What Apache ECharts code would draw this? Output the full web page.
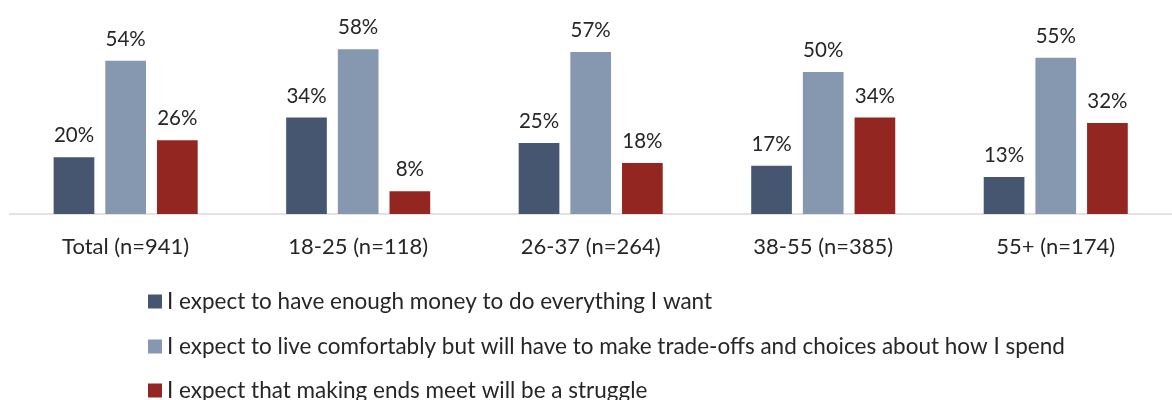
<!DOCTYPE html>
<html>
<head>
<meta charset="utf-8">
<script src="https://cdn.jsdelivr.net/npm/echarts@6/dist/echarts.min.js"></script>
<style>
  html, body { margin: 0; padding: 0; background: #fff; }
  #chart { width: 1172px; height: 400px; }
</style>
</head>
<body>
<div id="chart"></div>
<script>
// Age groups along the x axis
const categories = ['Total (n=941)', '18-25 (n=118)', '26-37 (n=264)', '38-55 (n=385)', '55+ (n=174)'];

// Share of respondents per expectation (%)
const seriesNames = [
  'I expect to have enough money to do everything I want',
  'I expect to live comfortably but will have to make trade-offs and choices about how I spend',
  'I expect that making ends meet will be a struggle'
];
const enoughMoney = [20, 34, 25, 17, 13];
const comfortable = [54, 58, 57, 50, 55];
const struggle = [26, 8, 18, 34, 32];

const colors = ['#465670', '#8598B0', '#942621'];
const textColor = '#262626';
const fontFamily = 'Lato, "Open Sans", sans-serif';

const chart = echarts.init(document.getElementById('chart'), null, { renderer: 'canvas' });

function barSeries(name, data, color) {
  return {
    name: name,
    type: 'bar',
    data: data,
    barWidth: '17.5%',
    barGap: '27%',
    itemStyle: { color: color },
    label: {
      show: true,
      position: 'top',
      distance: 11,
      formatter: '{c}%',
      color: textColor,
      fontSize: 20.5,
      fontFamily: fontFamily
    }
  };
}

// One legend row per series, stacked below the plot
const legendRowCenters = [300, 345, 389];
const legends = seriesNames.map(function (name, i) {
  return {
    orient: 'horizontal',
    left: 148,
    top: legendRowCenters[i] - 10,
    padding: 0,
    itemWidth: 14,
    itemHeight: 14,
    itemGap: 0,
    icon: 'rect',
    textStyle: { color: textColor, fontSize: 22.5, lineHeight: 20, fontFamily: fontFamily },
    data: [name]
  };
});

chart.setOption({
  animation: false,
  backgroundColor: '#ffffff',
  textStyle: { fontFamily: fontFamily },
  grid: { left: 9.4, right: -14, top: 15.2, bottom: 186 },
  xAxis: {
    type: 'category',
    data: categories,
    axisLine: { show: true, lineStyle: { color: '#d9d9d9', width: 1.5 } },
    axisTick: { show: false },
    axisLabel: { color: textColor, fontSize: 22, margin: 22, fontFamily: fontFamily }
  },
  yAxis: {
    type: 'value',
    min: 0,
    max: 70,
    show: false,
    splitLine: { show: false }
  },
  legend: legends,
  series: [
    barSeries(seriesNames[0], enoughMoney, colors[0]),
    barSeries(seriesNames[1], comfortable, colors[1]),
    barSeries(seriesNames[2], struggle, colors[2])
  ]
});
</script>
</body>
</html>
